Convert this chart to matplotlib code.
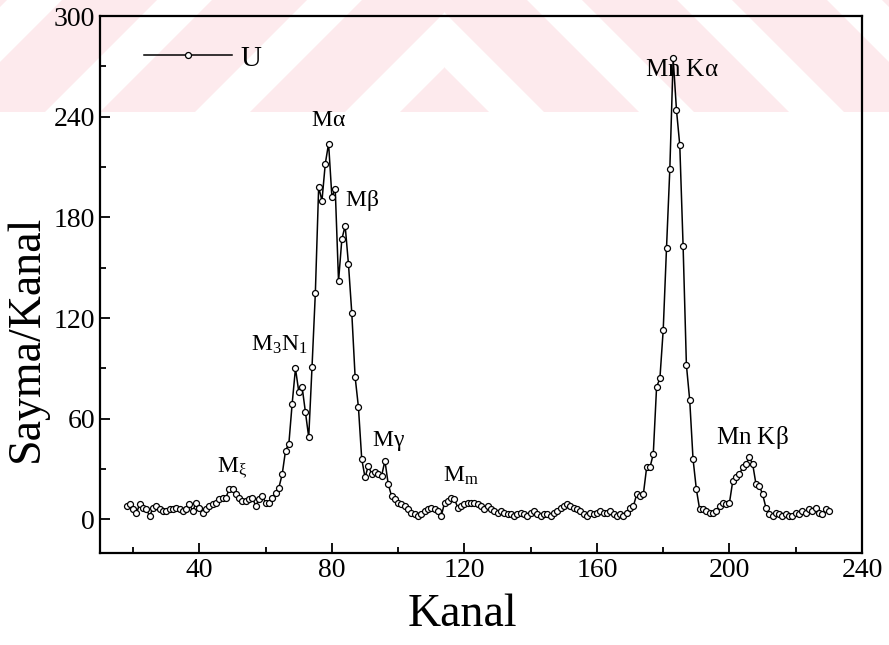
import numpy as np
import matplotlib.pyplot as plt
from matplotlib.patches import Polygon, Rectangle
from matplotlib.ticker import MultipleLocator

plt.rcParams['font.family'] = ['Liberation Serif', 'DejaVu Serif']
plt.rcParams['mathtext.fontset'] = 'custom'
plt.rcParams['mathtext.rm'] = 'Liberation Serif'
plt.rcParams['mathtext.it'] = 'Liberation Serif'

# kanal numaralari 18..230, her kanal icin sayma degeri
kanal = np.arange(18, 231)
sayma = [
    8, 9, 6, 4, 9, 7, 6, 2, 7, 8, 6, 5, 5, 6, 6, 7, 6, 5, 6, 9, 5, 10,          # 18-39
    7, 4, 6, 8, 9, 10, 12, 13, 13, 18, 18, 15, 13, 11, 11, 12, 13, 8, 12, 14,   # 40-59
    10, 10, 13, 16, 19, 27, 41, 45, 69, 90, 76, 79, 64, 49, 91, 135, 198, 190,  # 60-77
    212, 224, 192, 197, 142, 167, 175, 152, 123, 85, 67, 36, 25,                # 78-90
    32, 27, 28, 27, 26, 35, 21, 14, 12, 10, 9, 8, 6, 4, 3, 2, 3, 5, 6, 7,       # 91-110
    6, 5, 2, 10, 11, 13, 12, 7, 8, 9, 10, 10, 10, 9, 8, 6, 8, 6, 5, 4,          # 111-130
    5, 4, 3, 3, 2, 3, 4, 3, 2, 4, 5, 3, 2, 3, 3, 2, 4, 5, 7, 8,                 # 131-150
    9, 8, 7, 6, 5, 3, 2, 4, 3, 4, 5, 4, 4, 5, 3, 2, 3, 2, 4, 7,                 # 151-170
    8, 15, 14, 15, 31, 31, 39, 79, 84, 113, 162, 209, 275, 244, 223, 163,       # 171-186
    92, 71, 36, 18, 6, 6, 5, 4, 4, 5, 8, 10, 9, 10,                             # 187-200
    23, 25, 27, 31, 33, 37, 33, 21, 20, 15, 7, 3, 2, 4, 3, 2, 3, 2, 2, 4,       # 201-220
    3, 5, 4, 6, 5, 7, 4, 3, 6, 5,                                               # 221-230
]

etiketler = ['M$_\\xi$', 'M$_3$N$_1$', 'M$\\alpha$', 'M$\\beta$', 'M$\\gamma$',
             'M$_\\mathrm{m}$', 'Mn K$\\alpha$', 'Mn K$\\beta$']
etiket_x = [50, 64, 79, 89, 97, 119, 185.5, 207]
etiket_y = [31, 104, 238, 190, 47, 26, 268, 49]
etiket_boyut = [17, 17, 17, 17, 17, 17, 18, 18]

W, H = 889, 645
fig = plt.figure(figsize=(W / 100, H / 100), dpi=100)

# sayfadaki soluk pembe filigran seridi
for x0 in range(-200, 1000, 150):
    for ayna in (False, True):
        pts = [(x0, H - 112), (x0 + 95, H - 112), (x0 + 95 + 112, H), (x0 + 112, H)]
        if ayna:
            pts = [(W - px, py) for px, py in pts]
        p = Polygon([(px / W, py / H) for px, py in pts], closed=True,
                    transform=fig.transFigure, facecolor='#fdeaed',
                    edgecolor='none', zorder=0)
        kes = Rectangle((0 if not ayna else 445 / W, 1 - 112 / H), 445 / W, 112 / H,
                        transform=fig.transFigure)
        p.set_clip_path(kes)
        fig.patches.append(p)

ax = fig.add_axes([100 / W, 1 - 553 / H, 762 / W, 537 / H])
ax.set_zorder(2)
ax.patch.set_alpha(0)

ax.plot(kanal, sayma, '-', color='black', lw=1.1, marker='o', ms=4.3,
        mfc='white', mec='black', mew=0.9, label='U')

for t, x, y, s in zip(etiketler, etiket_x, etiket_y, etiket_boyut):
    ax.text(x, y, t, fontsize=s, ha='center', va='center')

ax.set_xlim(10, 240)
ax.set_ylim(-20, 300)
ax.xaxis.set_major_locator(MultipleLocator(40))
ax.xaxis.set_minor_locator(MultipleLocator(20))
ax.yaxis.set_major_locator(MultipleLocator(60))
ax.yaxis.set_minor_locator(MultipleLocator(30))
ax.tick_params(which='both', direction='in', top=False, right=False, labelsize=20, width=1.3)
ax.tick_params(which='major', length=7)
ax.tick_params(which='minor', length=4)
for s in ax.spines.values():
    s.set_linewidth(1.6)

ax.set_xlabel('Kanal', fontsize=33)
ax.set_ylabel('Sayma/Kanal', fontsize=33)
ax.xaxis.set_label_coords(0.476, -0.075)
ax.yaxis.set_label_coords(-0.068, 0.40)

ax.legend(loc='upper left', frameon=False, fontsize=21, handlelength=3.0,
          handletextpad=0.3, borderaxespad=0.6, bbox_to_anchor=(0.02, 1.0))

plt.savefig('out.png', dpi=100)
plt.close()
